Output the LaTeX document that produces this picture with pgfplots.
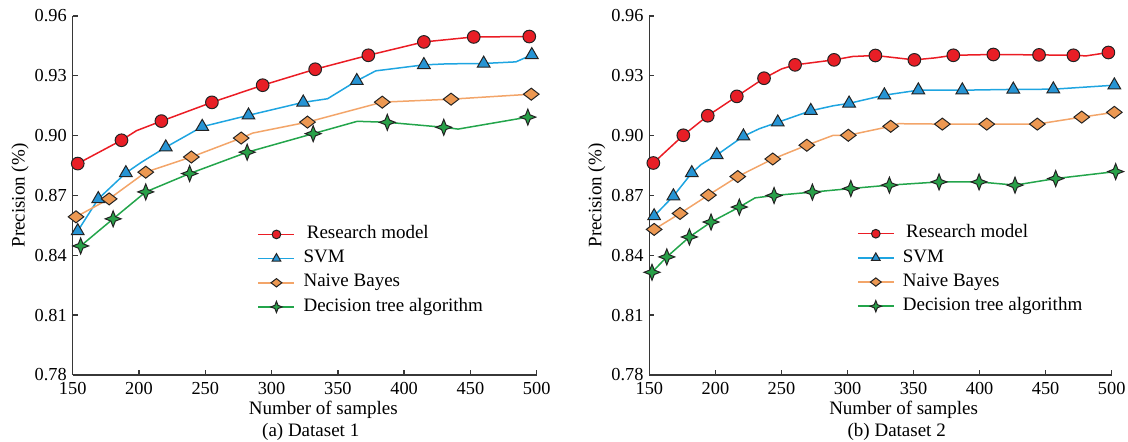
\documentclass[border=0pt]{standalone}
\usepackage{pgfplots}
\pgfplotsset{compat=1.18}
\usepackage{fontspec}
\setmainfont{Liberation Serif}

\definecolor{cred}{RGB}{235,28,36}
\definecolor{cblue}{RGB}{30,165,225}
\definecolor{corange}{RGB}{243,165,105}
\definecolor{cgreen}{RGB}{35,165,75}
\definecolor{fred}{RGB}{232,30,38}
\definecolor{fblue}{RGB}{38,148,212}
\definecolor{forange}{RGB}{236,152,82}
\definecolor{fgreen}{RGB}{40,160,72}
\definecolor{axgray}{RGB}{55,55,55}
\definecolor{mk}{RGB}{35,35,35}

\newcommand\lblfont{\fontsize{11.4}{13.7}\selectfont}
\newcommand\tkfont{\fontsize{11}{13}\selectfont}

% wide diamond and four-pointed star
\pgfdeclareplotmark{dia}{%
  \pgfpathmoveto{\pgfqpoint{1.3\pgfplotmarksize}{0pt}}%
  \pgfpathlineto{\pgfqpoint{0pt}{\pgfplotmarksize}}%
  \pgfpathlineto{\pgfqpoint{-1.3\pgfplotmarksize}{0pt}}%
  \pgfpathlineto{\pgfqpoint{0pt}{-\pgfplotmarksize}}%
  \pgfpathclose\pgfusepathqfillstroke}
\pgfdeclareplotmark{star4}{%
  \pgfpathmoveto{\pgfqpoint{0pt}{\pgfplotmarksize}}%
  \pgfpathlineto{\pgfqpoint{0.28\pgfplotmarksize}{0.28\pgfplotmarksize}}%
  \pgfpathlineto{\pgfqpoint{\pgfplotmarksize}{0pt}}%
  \pgfpathlineto{\pgfqpoint{0.28\pgfplotmarksize}{-0.28\pgfplotmarksize}}%
  \pgfpathlineto{\pgfqpoint{0pt}{-\pgfplotmarksize}}%
  \pgfpathlineto{\pgfqpoint{-0.28\pgfplotmarksize}{-0.28\pgfplotmarksize}}%
  \pgfpathlineto{\pgfqpoint{-\pgfplotmarksize}{0pt}}%
  \pgfpathlineto{\pgfqpoint{-0.28\pgfplotmarksize}{0.28\pgfplotmarksize}}%
  \pgfpathclose\pgfusepathqfillstroke}

\tikzset{
  lred/.style={color=cred, line width=0.9pt},
  lblue/.style={color=cblue, line width=0.9pt},
  lorange/.style={color=corange, line width=0.9pt},
  lgreen/.style={color=cgreen, line width=0.9pt},
  mred/.style={mark=*, mark size=3.8pt, mark options={fill=fred, draw=mk, line width=0.6pt}},
  mblue/.style={mark=triangle*, mark size=4.4pt, mark options={fill=fblue, draw=mk, line width=0.6pt}},
  morange/.style={mark=dia, mark size=3.6pt, mark options={fill=forange, draw=mk, line width=0.6pt}},
  mgreen/.style={mark=star4, mark size=4.8pt, mark options={fill=fgreen, draw=mk, line width=0.6pt}},
}

\pgfplotsset{
  panel/.style={
    scale only axis, width=278.4pt, height=215.4pt,
    xmin=150, xmax=500, ymin=0.78, ymax=0.96,
    axis x line*=bottom, axis y line*=left,
    axis line style={axgray, line width=0.8pt, -},
    xtick={150,200,...,500}, ytick={0.78,0.81,0.84,0.87,0.90,0.93,0.96},
    tick align=inside, major tick length=3pt,
    every tick/.style={axgray, line width=0.8pt},
    scaled y ticks=false,
    yticklabel style={/pgf/number format/fixed, /pgf/number format/fixed zerofill, /pgf/number format/precision=2},
    xticklabel style={yshift=-1pt},
    /pgf/number format/assume math mode=true,
    ticklabel style={font=\tkfont},
    clip=false,
    every axis x label/.style={at={(axis description cs:0.54,0)}, anchor=base, yshift=-24pt, font=\lblfont},
    every axis y label/.style={at={(axis description cs:0,0.5)}, xshift=-31.6pt, rotate=90, anchor=center, font=\lblfont},
    xlabel={Number of samples}, ylabel={Precision (\%)},
    legend style={draw=none, fill=none, inner sep=0pt, font=\lblfont, row sep=3.5pt,
      nodes={inner sep=0pt, text height=8pt, text depth=3pt}, anchor=north west,
      /tikz/every odd column/.append style={column sep=5pt}},
    legend cell align=left,
  },
  legred/.style={legend image code/.code={\draw[lred] (0pt,0pt) -- (21.6pt,0pt); \draw[mred, mark size=2.6pt] plot coordinates {(10.8pt,0pt)};}},
  legblue/.style={legend image code/.code={\draw[lblue] (0pt,0pt) -- (21.6pt,0pt); \draw[mblue, mark size=3pt] plot coordinates {(10.8pt,0pt)};}},
  legorange/.style={legend image code/.code={\draw[lorange] (0pt,0pt) -- (21.6pt,0pt); \draw[morange, mark size=2.5pt] plot coordinates {(10.8pt,0pt)};}},
  leggreen/.style={legend image code/.code={\draw[lgreen] (0pt,0pt) -- (21.6pt,0pt); \draw[mgreen, mark size=3.4pt] plot coordinates {(10.8pt,0pt)};}},
}

\begin{document}
\begin{tikzpicture}
\path[use as bounding box] (-43.62pt,-39.8pt) rectangle (633.18pt,225pt);

% ---------- (a) Dataset 1 ----------
\begin{axis}[panel, legend style={at={(axis description cs:0.398,0.418)}}]
\addplot[lred, forget plot] coordinates {(153.8,0.886) (186.8,0.8977) (198.1,0.9025) (216.9,0.9073) (255.0,0.9167) (293.3,0.9253) (332.9,0.9333) (373.0,0.9403) (414.9,0.947) (452.5,0.9495) (494.4,0.9497)};
\addplot[only marks, mred, legred] coordinates {(153.8,0.886) (186.8,0.8977) (216.9,0.9073) (255.0,0.9167) (293.3,0.9253) (332.9,0.9333) (373.0,0.9403) (414.9,0.947) (452.5,0.9495) (494.4,0.9497)};
\addplot[lblue, forget plot] coordinates {(153.8,0.8522) (169.3,0.8683) (190.1,0.8813) (201.9,0.8867) (220.2,0.8942) (247.7,0.9045) (282.6,0.9102) (323.9,0.9167) (342.2,0.9185) (364.3,0.9275) (378.6,0.9325) (414.9,0.9355) (432.4,0.936) (460.0,0.9362) (484.3,0.937) (496.3,0.9405)};
\addplot[only marks, mblue, legblue] coordinates {(153.8,0.8522) (169.3,0.8683) (190.1,0.8813) (220.2,0.8942) (247.7,0.9045) (282.6,0.9102) (323.9,0.9167) (364.3,0.9275) (414.9,0.9355) (460.0,0.9362) (496.3,0.9405)};
\addplot[lorange, forget plot] coordinates {(152.5,0.8593) (177.5,0.8683) (205.1,0.8817) (239.5,0.8893) (277.1,0.8988) (285.8,0.9013) (327.1,0.9068) (383.5,0.9168) (435.4,0.9183) (495.9,0.9208)};
\addplot[only marks, morange, legorange] coordinates {(152.5,0.8593) (177.5,0.8683) (205.1,0.8817) (239.5,0.8893) (277.1,0.8988) (327.1,0.9068) (383.5,0.9168) (435.4,0.9183) (495.9,0.9208)};
\addplot[lgreen, forget plot] coordinates {(156,0.8447) (180.5,0.8583) (205.1,0.8718) (238.2,0.881) (281.6,0.8917) (331.4,0.901) (364.7,0.9072) (387.3,0.9067) (429.9,0.9042) (440.7,0.9033) (493.3,0.9093)};
\addplot[only marks, mgreen, leggreen] coordinates {(156,0.8447) (180.5,0.8583) (205.1,0.8718) (238.2,0.881) (281.6,0.8917) (331.4,0.901) (387.3,0.9067) (429.9,0.9042) (493.3,0.9093)};
\legend{{\hspace*{2pt}Research model}, SVM, Naive Bayes, Decision tree algorithm}
\node[anchor=base, font=\lblfont, yshift=-36.8pt] at (axis description cs:0.513,0) {(a) Dataset 1};
\end{axis}

% ---------- (b) Dataset 2 ----------
\begin{axis}[panel, at={(346pt,0pt)}, width=277.4pt,
  every axis x label/.append style={at={(axis description cs:0.55,0)}},
  legend style={at={(axis description cs:0.4485,0.42)}}]
\addplot[lred, forget plot] coordinates {(153.0,0.8863) (175.7,0.9002) (194.2,0.910) (216.2,0.9197) (236.8,0.9288) (250.2,0.9335) (260.3,0.9355) (289.8,0.938) (304,0.9397) (321.1,0.9402) (350.6,0.938) (366.3,0.939) (380.1,0.9403) (410.4,0.9407) (445.0,0.9405) (471.0,0.9403) (480.6,0.940) (497.5,0.9417)};
\addplot[only marks, mred, legred] coordinates {(153.0,0.8863) (175.7,0.9002) (194.2,0.910) (216.2,0.9197) (236.8,0.9288) (260.3,0.9355) (289.8,0.938) (321.1,0.9402) (350.6,0.938) (380.1,0.9403) (410.4,0.9407) (445.0,0.9405) (471.0,0.9403) (497.5,0.9417)};
\addplot[lblue, forget plot] coordinates {(153.6,0.8597) (168.2,0.8697) (182.1,0.8813) (189.1,0.8855) (201.0,0.8903) (221.2,0.8997) (233.3,0.9035) (247.2,0.9067) (272.2,0.9125) (289.3,0.915) (301.2,0.9162) (327.9,0.9203) (353.6,0.9228) (386.9,0.9228) (425.5,0.9232) (455.8,0.9233) (502,0.9253)};
\addplot[only marks, mblue, legblue] coordinates {(153.6,0.8597) (168.2,0.8697) (182.1,0.8813) (201.0,0.8903) (221.2,0.8997) (247.2,0.9067) (272.2,0.9125) (301.2,0.9162) (327.9,0.9203) (353.6,0.9228) (386.9,0.9228) (425.5,0.9232) (455.8,0.9233) (502,0.9253)};
\addplot[lorange, forget plot] coordinates {(153.6,0.853) (173.2,0.861) (194.7,0.8702) (216.9,0.8795) (243.4,0.8883) (269.2,0.8952) (289.3,0.9002) (300.6,0.9002) (332.7,0.9047) (338.5,0.906) (371.8,0.9058) (405.4,0.9058) (443.7,0.9058) (477.3,0.9093) (502,0.9117)};
\addplot[only marks, morange, legorange] coordinates {(153.6,0.853) (173.2,0.861) (194.7,0.8702) (216.9,0.8795) (243.4,0.8883) (269.2,0.8952) (300.6,0.9002) (332.7,0.9047) (371.8,0.9058) (405.4,0.9058) (443.7,0.9058) (477.3,0.9093) (502,0.9117)};
\addplot[lgreen, forget plot] coordinates {(152,0.8315) (163.2,0.8392) (180.3,0.8492) (196.7,0.8567) (218.1,0.8642) (230,0.8688) (244.4,0.870) (273.4,0.8717) (302.5,0.8735) (331.7,0.8752) (369.3,0.8768) (399.6,0.8768) (426.8,0.8752) (457.6,0.8785) (503,0.882)};
\addplot[only marks, mgreen, leggreen] coordinates {(152,0.8315) (163.2,0.8392) (180.3,0.8492) (196.7,0.8567) (218.1,0.8642) (244.4,0.870) (273.4,0.8717) (302.5,0.8735) (331.7,0.8752) (369.3,0.8768) (399.6,0.8768) (426.8,0.8752) (457.6,0.8785) (503,0.882)};
\legend{{\hspace*{2pt}Research model}, SVM, Naive Bayes, Decision tree algorithm}
\node[anchor=base, font=\lblfont, yshift=-36.8pt] at (axis description cs:0.535,0) {(b) Dataset 2};
\end{axis}
\end{tikzpicture}
\end{document}
